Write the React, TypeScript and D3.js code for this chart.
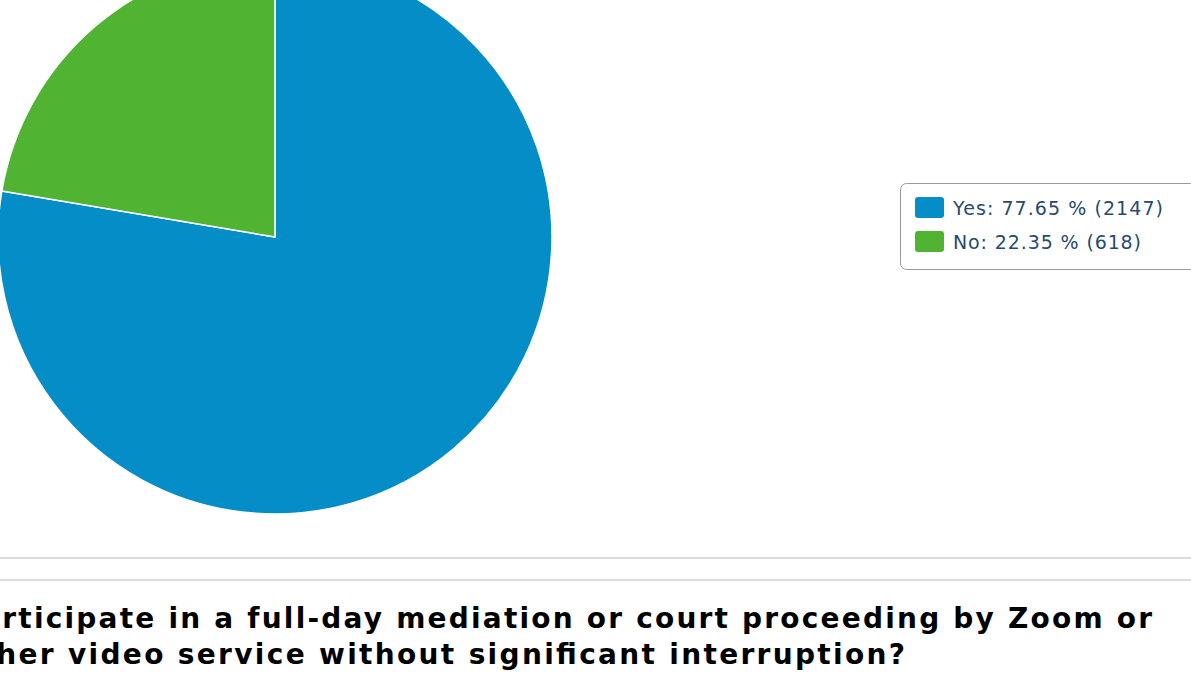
import * as d3 from "d3";

const labels = ["Yes", "No"];
const percents = [77.65, 22.35];
const counts = [2147, 618];
const colors = ["#058DC7", "#50B432"];
const titleLines = [
  "participate in a full-day mediation or court proceeding by Zoom or",
  "other video service without significant interruption?",
];

const W = 1191;
const H = 677;

export default function App() {
  const cx = 275;
  const cy = 237;
  const r = 277;

  const pie = d3
    .pie<number>()
    .sort(null)
    .value((d) => d);
  const arcs = pie(percents);
  const arcGen = d3.arc<d3.PieArcDatum<number>>().innerRadius(0).outerRadius(r);

  // legend layout
  const legX = 900;
  const legY = 183;
  const rowH = 34;
  const legTextW = [210, 188];

  return (
    <svg
      width={W}
      height={H}
      style={{ position: "absolute", left: 0, top: 0, background: "#fff" }}
    >
      <g transform={`translate(${cx},${cy})`}>
        {arcs.map((a, i) => (
          <path
            key={labels[i]}
            d={arcGen(a) || ""}
            fill={colors[i]}
            stroke="#fff"
            strokeWidth={1.5}
            strokeLinejoin="round"
          />
        ))}
      </g>

      <rect
        x={legX + 0.5}
        y={legY + 0.5}
        width={296}
        height={86}
        rx={6}
        fill="#fff"
        stroke="#999"
        strokeWidth={1}
      />
      {labels.map((l, i) => (
        <g key={l} transform={`translate(${legX + 15},${legY + 14 + i * rowH})`}>
          <rect width={29} height={21} rx={3} fill={colors[i]} />
          <text
            x={38}
            y={18}
            fontFamily="DejaVu Sans, Verdana, sans-serif"
            fontSize={19}
            fill="#274b6d"
            textLength={legTextW[i]}
            lengthAdjust="spacing"
          >
            {`${l}: ${percents[i].toFixed(2)} % (${counts[i]})`}
          </text>
        </g>
      ))}

      <line x1={0} x2={W} y1={558} y2={558} stroke="#dcdcdc" strokeWidth={2} />
      <line x1={0} x2={W} y1={580} y2={580} stroke="#dcdcdc" strokeWidth={2} />

      <text
        x={-41}
        y={628}
        fontFamily="DejaVu Sans, Verdana, sans-serif"
        fontWeight="bold"
        fontSize={28}
        fill="#000"
        textLength={1193}
        lengthAdjust="spacing"
      >
        {titleLines[0]}
      </text>
      <text
        x={-41}
        y={664}
        fontFamily="DejaVu Sans, Verdana, sans-serif"
        fontWeight="bold"
        fontSize={28}
        fill="#000"
        textLength={946}
        lengthAdjust="spacing"
      >
        {titleLines[1]}
      </text>
    </svg>
  );
}
